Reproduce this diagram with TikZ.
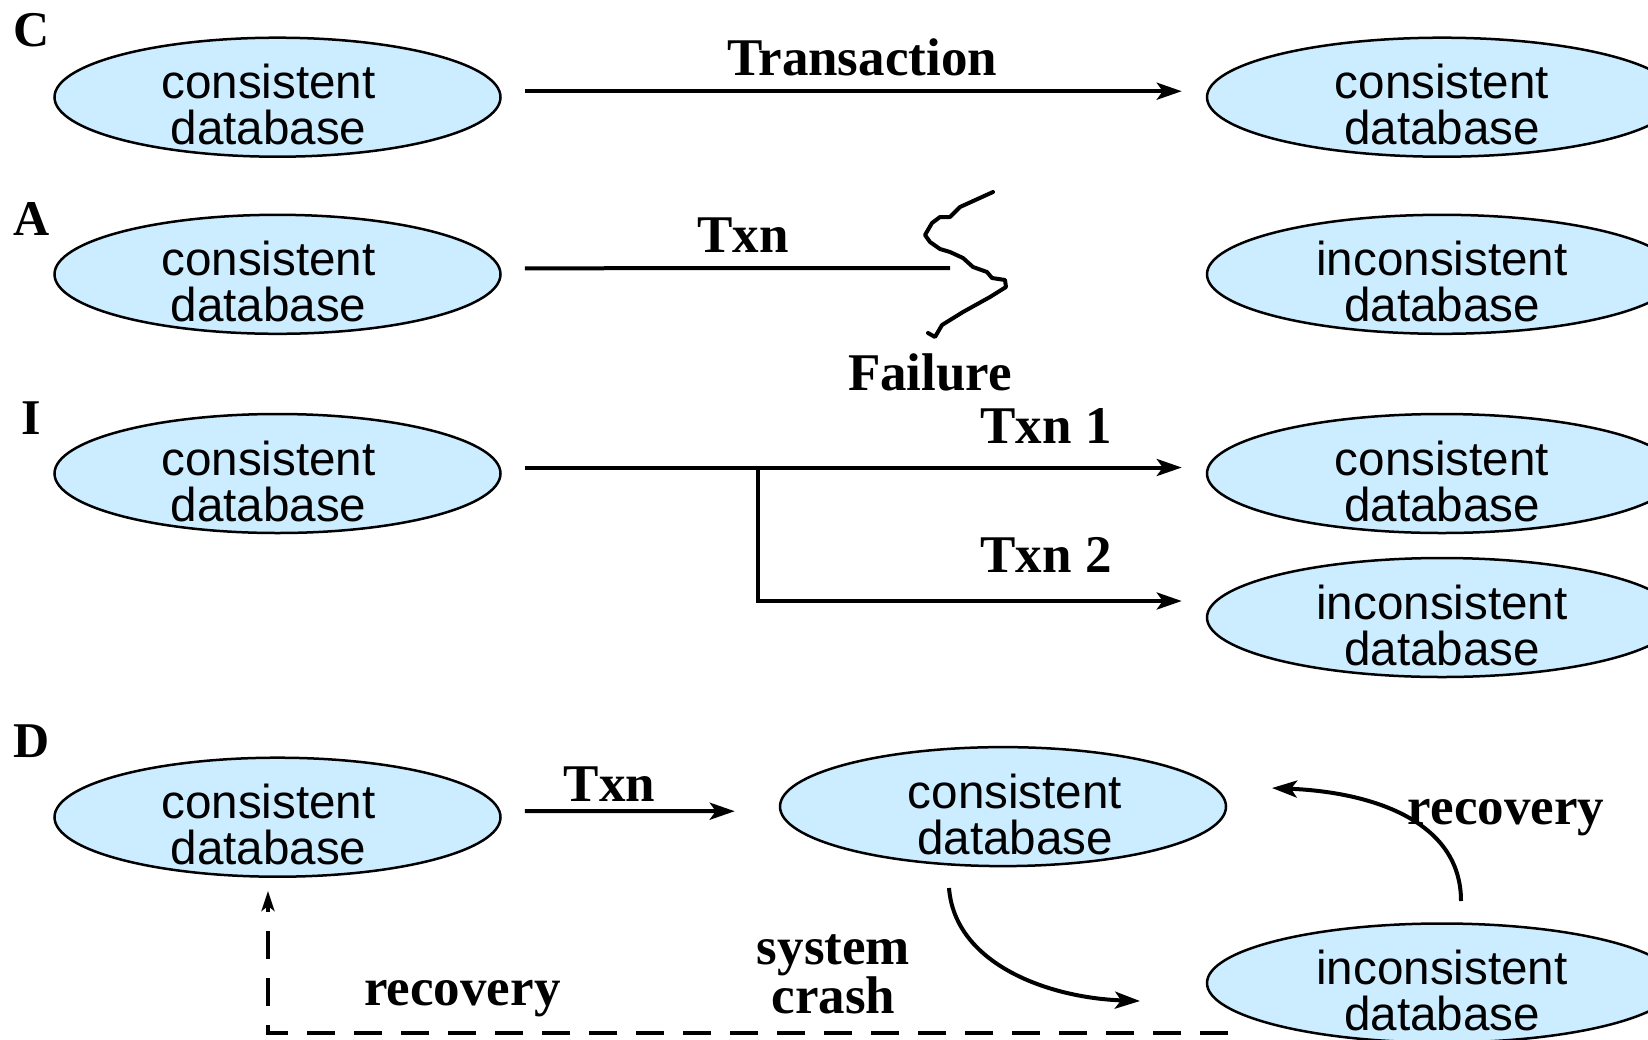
\documentclass[tikz,border=0pt]{standalone}
\usepackage{fontspec}
\setmainfont{Liberation Serif}
\newfontfamily\arialf{Liberation Sans}
\usetikzlibrary{arrows.meta,shapes.geometric}
\definecolor{dbfill}{RGB}{204,236,255}
\begin{document}
\begin{tikzpicture}[x=1pt,y=-1pt,
  db/.style={ellipse,draw=black,line width=2.5pt,fill=dbfill,minimum width=446pt,minimum height=119pt,inner sep=0pt},
  dbr/.style={db,minimum width=470pt},
  dbt/.style={inner sep=0pt,align=center,yshift=-7.5pt,font=\arialf\fontsize{47.6}{46}\selectfont},
  lbl/.style={font=\bfseries\fontsize{53}{49}\selectfont,inner sep=0pt,anchor=base,align=center},
  tag/.style={font=\bfseries\fontsize{50}{50}\selectfont,inner sep=0pt,anchor=base},
  tipA/.tip={Stealth[length=25pt,width=17pt,inset=6pt]},
  conn/.style={line width=4pt,-tipA},
  plainline/.style={line width=4pt},
]
\useasboundingbox (0,0) rectangle (1648,1039);

% row labels
\node[tag] (tC) at (31.5,46) {C};
\node[tag] (tA) at (31.5,235) {A};
\node[tag] (tI) at (31.5,434) {I};
\node[tag] (tD) at (31.5,757) {D};

% Row C
\node[db,label={[dbt,xshift=-9pt]center:consistent\\database}] (c1) at (277.5,97.2) {};
\node[dbr,label={[dbt]center:consistent\\database}] (c2) at (1442,97.2) {};
\draw[conn] ([xshift=23pt,yshift=6pt]c1.east) -- ([xshift=-24pt,yshift=6pt]c2.west);
\node[lbl] (lT) at (862,75.7) {Transaction};

% Row A
\node[db,label={[dbt,xshift=-9pt]center:consistent\\database}] (a1) at (277.5,274.3) {};
\node[dbr,label={[dbt]center:inconsistent\\database}] (a2) at (1442,274.3) {};
\coordinate (fail) at (950,268);
\draw[plainline] ([xshift=23pt,yshift=6pt]a1.east) -- (fail);
\node[lbl] (lA) at (743,252) {Txn};
\draw[line width=4pt,line join=round,line cap=round]
  (993,192) -- (960,207) -- (950,217) -- (940,217) -- (932,223) -- (925,235)
  -- (930,242) -- (940,249) -- (950,252) -- (963,258) -- (973,267) -- (987,272)
  -- (992,278) -- (1005,280) -- (1006,287) -- (990,297) -- (963,312) -- (942,325)
  -- (935,337) -- (928,333);
\node[lbl] (lF) at (930,390) {Failure};

% Row I
\node[db,label={[dbt,xshift=-9pt]center:consistent\\database}] (i1) at (277.5,473.5) {};
\node[dbr,label={[dbt]center:consistent\\database}] (i2) at (1442,473.5) {};
\node[dbr,label={[dbt]center:inconsistent\\database}] (i3) at (1442,617.5) {};
\coordinate (br) at (758,467.5);
\draw[conn] ([xshift=23pt,yshift=6pt]i1.east) -- ([xshift=-24pt,yshift=6pt]i2.west);
\draw[conn] (br) |- ([xshift=-24pt,yshift=16.5pt]i3.west);
\node[lbl] (lI1) at (1046,443.5) {Txn 1};
\node[lbl] (lI2) at (1046,572) {Txn 2};

% Row D
\node[db,label={[dbt,xshift=-9pt]center:consistent\\database}] (d1) at (277.5,817.2) {};
\node[db,label={[dbt,xshift=12pt]center:consistent\\database}] (d2) at (1003,806.6) {};
\node[dbr,label={[dbt]center:inconsistent\\database}] (d3) at (1442,983) {};
\draw[conn] ([xshift=23pt,yshift=6pt]d1.east) -- ([xshift=-44pt,yshift=-4.6pt]d2.west);
\node[lbl] (lD) at (609.6,801) {Txn};

\coordinate (cs) at (949,888);
\coordinate (ce) at (1140,1001);
\draw[conn] (cs) .. controls (955,965) and (1050,998) .. (ce);
\node[lbl] (lSC) at (833.5,1013) {system\\crash};

\coordinate (rs) at (1461,901);
\coordinate (re) at (1272,788);
\draw[conn] (rs) .. controls (1461,820) and (1370,792) .. (re);
\node[lbl] (lR1) at (1506,824) {recovery};

\coordinate (ds) at (1228,1033);
\coordinate (dt) at (268,891);
\draw[line width=4pt,dash pattern=on 28pt off 19pt,-{Stealth[length=20pt,width=13pt,inset=5pt]}] (ds) -| (dt);
\node[lbl] (lR2) at (462.4,1005) {recovery};
\end{tikzpicture}
\end{document}
